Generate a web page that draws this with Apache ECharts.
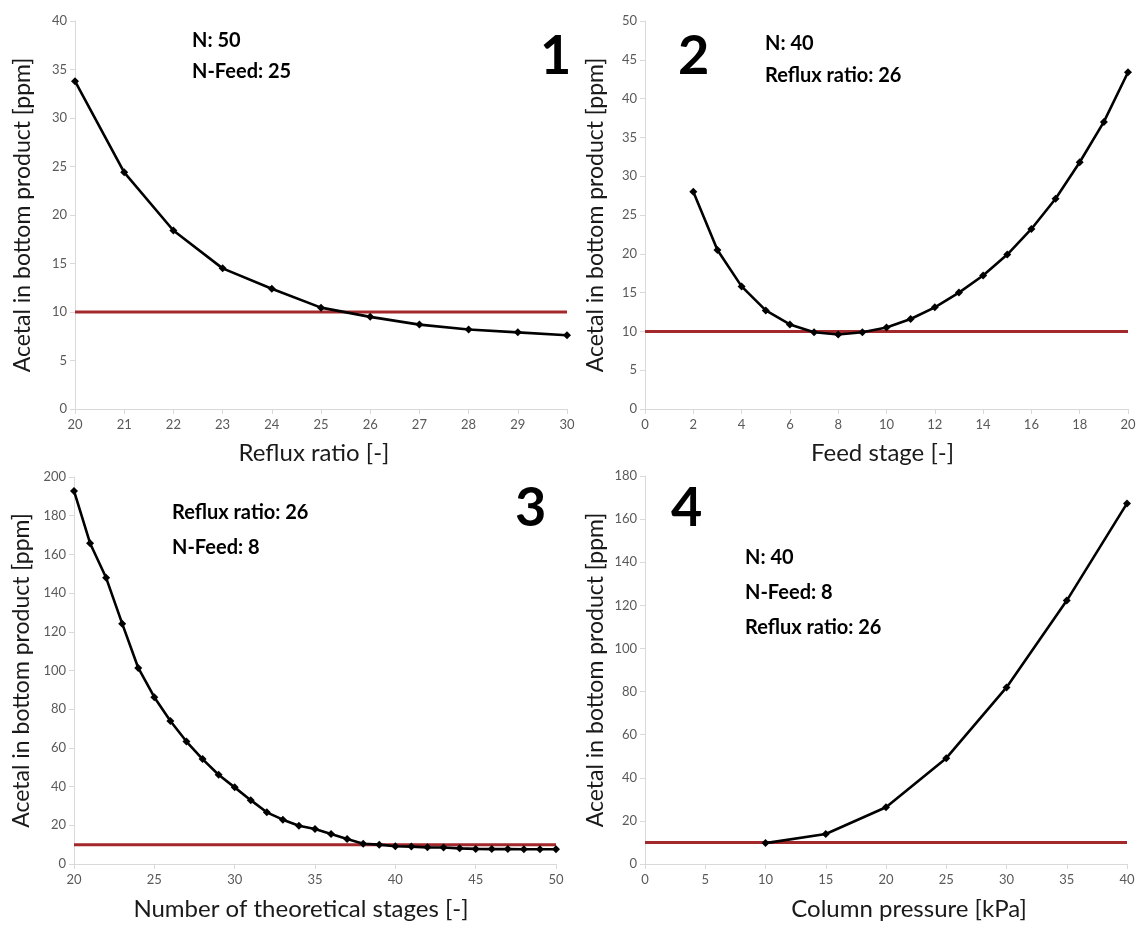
<!DOCTYPE html>
<html>
<head>
<meta charset="utf-8">
<script src="https://cdn.jsdelivr.net/npm/echarts@6/dist/echarts.min.js"></script>
<style>
  html, body { margin: 0; padding: 0; background: #fff; }
  #chart { width: 1144px; height: 926px; }
</style>
</head>
<body>
<div id="chart"></div>
<script>
// panel 1: reflux ratio
const refluxX = [20, 21, 22, 23, 24, 25, 26, 27, 28, 29, 30]
const refluxY = [33.8, 24.4, 18.4, 14.5, 12.4, 10.45, 9.5, 8.7, 8.2, 7.9, 7.6]

// panel 2: feed stage
const feedX = [2, 3, 4, 5, 6, 7, 8, 9, 10, 11, 12, 13, 14, 15, 16, 17, 18, 19, 20]
const feedY = [28.0, 20.5, 15.8, 12.7, 10.9, 9.9, 9.6, 9.9, 10.5, 11.6, 13.1, 15.0, 17.2, 19.9, 23.2, 27.1, 31.8, 37.0, 43.4]

// panel 3: number of theoretical stages
const stagesX = [20, 21, 22, 23, 24, 25, 26, 27, 28, 29, 30, 31, 32, 33, 34, 35, 36, 37, 38, 39, 40, 41, 42, 43, 44, 45, 46, 47, 48, 49, 50]
const stagesY = [192.8, 165.8, 147.9, 124.2, 101.3, 86.2, 73.9, 63.3, 54.2, 46.1, 39.6, 33.0, 26.7, 22.9, 19.8, 18.1, 15.5, 12.9, 10.5, 10.0, 9.2, 9.0, 8.6, 8.5, 8.1, 7.8, 7.7, 7.7, 7.6, 7.6, 7.6]

// panel 4: column pressure
const pressureX = [10, 15, 20, 25, 30, 35, 40]
const pressureY = [9.7, 13.9, 26.3, 49.1, 81.9, 122.2, 167.3]

// limit line
const limitValue = 10

const FONT = 'Lato, "Liberation Sans", sans-serif'
const tickColor = '#595959'
const axisGrey = '#d9d9d9'

const grids = [
  { left: 75, top: 21, width: 492, height: 388 },
  { left: 645, top: 21, width: 483, height: 388 },
  { left: 74, top: 477, width: 482, height: 387 },
  { left: 645, top: 476, width: 482, height: 388 }
]

// pad shifts the axis title a little off-centre, like the original
const xCfg = [
  { name: 'Reflux ratio [-]', min: 20, max: 30, interval: 1, gap: 32, pad: [0, 14, 0, 0] },
  { name: 'Feed stage [-]', min: 0, max: 20, interval: 2, gap: 32, pad: [0, 8, 0, 0] },
  { name: 'Number of theoretical stages [-]', min: 20, max: 50, interval: 5, gap: 33, pad: [0, 28, 0, 0] },
  { name: 'Column pressure [kPa]', min: 0, max: 40, interval: 5, gap: 33, pad: [0, 0, 0, 46] }
]
const yCfg = [
  { min: 0, max: 40, interval: 5, gap: 41 },
  { min: 0, max: 50, interval: 5, gap: 38 },
  { min: 0, max: 200, interval: 20, gap: 41 },
  { min: 0, max: 180, interval: 20, gap: 38 }
]

const zip = (xs, ys) => xs.map((x, i) => [x, ys[i]])

const xAxis = xCfg.map((c, i) => ({
  type: 'value',
  gridIndex: i,
  min: c.min, max: c.max, interval: c.interval,
  name: c.name,
  nameLocation: 'middle',
  nameGap: c.gap,
  nameTextStyle: { fontFamily: FONT, fontSize: 24, color: '#1a1a1a', padding: c.pad },
  axisLine: { lineStyle: { color: axisGrey, width: 1 } },
  axisTick: { show: true, length: 5, lineStyle: { color: axisGrey } },
  axisLabel: { color: tickColor, fontFamily: FONT, fontSize: 13, margin: 9 },
  splitLine: { show: false }
}))

const yAxis = yCfg.map((c, i) => ({
  type: 'value',
  gridIndex: i,
  min: c.min, max: c.max, interval: c.interval,
  name: 'Acetal in bottom product [ppm]',
  nameLocation: 'middle',
  nameRotate: 90,
  nameGap: c.gap,
  nameTextStyle: { fontFamily: FONT, fontSize: 23, color: '#1a1a1a' },
  axisLine: { show: true, lineStyle: { color: axisGrey, width: 1 } },
  axisTick: { show: true, length: 5, lineStyle: { color: axisGrey } },
  axisLabel: { color: tickColor, fontFamily: FONT, fontSize: 13, margin: 8 },
  splitLine: { show: false }
}))

const curves = [zip(refluxX, refluxY), zip(feedX, feedY), zip(stagesX, stagesY), zip(pressureX, pressureY)]

const series = []
curves.forEach((data, i) => {
  series.push({
    type: 'line',
    xAxisIndex: i, yAxisIndex: i,
    data: [[xCfg[i].min, limitValue], [xCfg[i].max, limitValue]],
    symbol: 'none',
    lineStyle: { color: '#a3282b', width: 3 },
    silent: true,
    z: 2
  })
  series.push({
    type: 'line',
    xAxisIndex: i, yAxisIndex: i,
    data: data,
    symbol: 'diamond',
    symbolSize: 8,
    itemStyle: { color: '#000' },
    lineStyle: { color: '#000', width: 2.6 },
    z: 3
  })
})

const bold = (text, x, y, size) => ({
  type: 'text', left: x, top: y,
  style: { text: text, fontFamily: FONT, fontWeight: 'bold', fontSize: size, fill: '#000' }
})

const chart = echarts.init(document.getElementById('chart'))
chart.setOption({
  backgroundColor: '#fff',
  animation: false,
  grid: grids,
  xAxis: xAxis,
  yAxis: yAxis,
  series: series,
  graphic: [
    bold('N: 50', 192, 31, 20),
    bold('N-Feed: 25', 192, 62, 20),
    bold('1', 540, 30, 54),

    bold('2', 678, 30, 54),
    bold('N: 40', 765, 34, 20),
    bold('Reflux ratio: 26', 765, 66, 20),

    bold('3', 515, 482, 54),
    bold('Reflux ratio: 26', 172, 503, 20),
    bold('N-Feed: 8', 172, 538, 20),

    bold('4', 671, 482, 54),
    bold('N: 40', 745, 548, 20),
    bold('N-Feed: 8', 745, 583, 20),
    bold('Reflux ratio: 26', 745, 618, 20)
  ]
})
window.addEventListener('resize', () => chart.resize())
</script>
</body>
</html>
